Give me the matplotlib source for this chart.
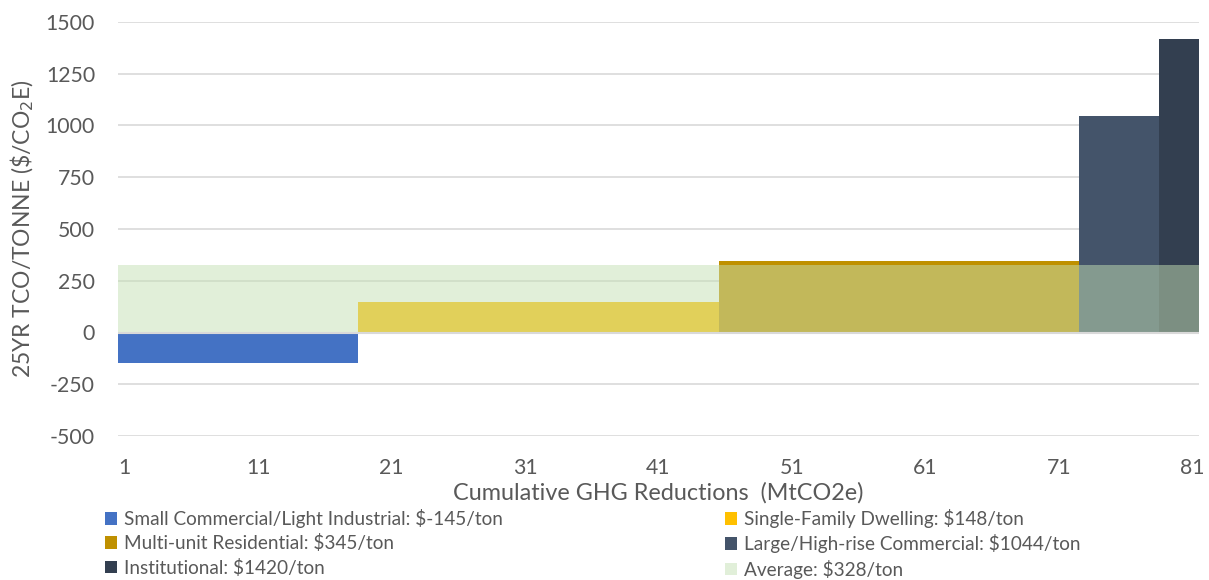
import matplotlib
matplotlib.use("Agg")
import matplotlib.pyplot as plt
from matplotlib.patches import Patch
import numpy as np

# Sector data: cost per tonne and number of 1-MtCO2e steps each sector contributes
sectors = [
    "Small Commercial/Light Industrial",
    "Single-Family Dwelling",
    "Multi-unit Residential",
    "Large/High-rise Commercial",
    "Institutional",
]
costs = [-145, 148, 345, 1044, 1420]
steps = [18, 27, 27, 6, 3]
colors = ["#4472C4", "#FFC000", "#BF9000", "#44546A", "#333F50"]

average_cost = 328
average_color = "#C5E0B4"

x_ticks = [1, 11, 21, 31, 41, 51, 61, 71, 81]
y_ticks = [-500, -250, 0, 250, 500, 750, 1000, 1250, 1500]

plt.rcParams["font.family"] = ["Lato", "DejaVu Sans"]
plt.rcParams["axes.unicode_minus"] = False
text_color = "#595959"

fig = plt.figure(figsize=(12.09, 5.80), dpi=100)
ax = fig.add_axes([118 / 1209, 1 - 436 / 580, (1199 - 118) / 1209, (436 - 22) / 580])

# Each sector spans a run of consecutive categories (category k is centred on k)
ends = np.cumsum(steps)
starts = ends - np.array(steps)
lefts = starts + 0.5
for left, width, cost, col in zip(lefts, steps, costs, colors):
    ax.bar(left, cost, width=width, align="edge", color=col, linewidth=0, zorder=2)

# Average cost band, semi-transparent over every category
total = int(ends[-1])
ax.bar(0.5, average_cost, width=total, align="edge", color=average_color,
       alpha=0.5, linewidth=0, zorder=3)

ax.set_xlim(0.5, total + 0.5)
ax.set_ylim(-500, 1500)
ax.set_xticks(x_ticks)
ax.set_yticks(y_ticks)
ax.tick_params(axis="both", length=0, labelsize=15.3, colors=text_color)
ax.tick_params(axis="y", pad=16.5)
ax.tick_params(axis="x", pad=16)

ax.grid(axis="y", color="#D9D9D9", linewidth=1.2, zorder=0)
ax.set_axisbelow(True)
ax.axhline(0, color="#D9D9D9", linewidth=1.5, zorder=4)
for s in ax.spines.values():
    s.set_visible(False)

ax.set_xlabel("Cumulative GHG Reductions  (MtCO2e)", fontsize=16.8, color=text_color, labelpad=2.5)
ax.set_ylabel(r"25YR TCO/TONNE (\$/CO$_2$E)", fontsize=16.5, color=text_color)
ax.yaxis.set_label_coords(22 / 1209, 0.5 * (1 - 436 / 580) + 0.5 * (1 - 22 / 580),
                          transform=fig.transFigure)
ax.yaxis.label.set_verticalalignment("center")

# Legend in two columns beneath the chart
labels = [f"{n}: ${c}/ton" for n, c in zip(sectors, costs)]
handles = [Patch(facecolor=c, edgecolor="none") for c in colors]
avg_handle = Patch(facecolor=average_color, alpha=0.5, edgecolor="none")

left_items = [(handles[0], labels[0]), (handles[2], labels[2]), (handles[4], labels[4])]
right_items = [(handles[1], labels[1]), (handles[3], labels[3]), (avg_handle, f"Average: ${average_cost}/ton")]

legend_kw = dict(frameon=False, fontsize=13.7, handlelength=0.65, handleheight=0.65,
                 handletextpad=0.35, labelspacing=0.33, borderpad=0, borderaxespad=0,
                 loc="upper left", labelcolor=text_color)
leg1 = fig.legend([h for h, _ in left_items], [l for _, l in left_items],
                  bbox_to_anchor=(105 / 1209, 1 - 509 / 580), **legend_kw)
leg2 = fig.legend([h for h, _ in right_items], [l for _, l in right_items],
                  bbox_to_anchor=(725 / 1209, 1 - 509 / 580), **legend_kw)

fig.savefig("out.png", dpi=100)
